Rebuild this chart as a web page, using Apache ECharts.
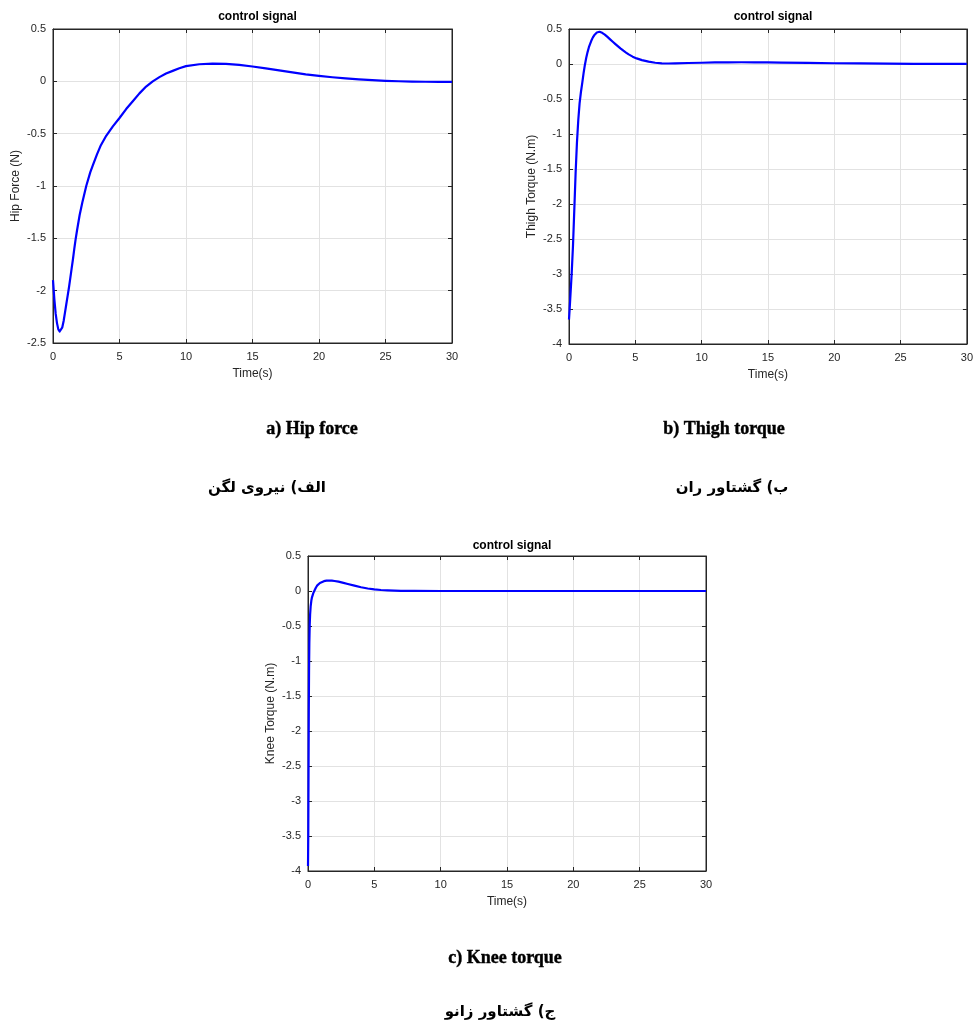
<!DOCTYPE html>
<html>
<head>
<meta charset="utf-8">
<script src="https://cdn.jsdelivr.net/npm/echarts@6/dist/echarts.min.js"></script>
<style>
html,body{margin:0;padding:0;background:#fff;}
#chart{width:976px;height:1021px;}
</style>
</head>
<body>
<div id="chart"></div>
<script>
// ---- Data ----
const xTicks = [0, 5, 10, 15, 20, 25, 30];

const hipT = [0, 0.1, 0.2, 0.3, 0.4, 0.5, 0.6, 0.7, 0.8, 0.9, 1.0, 1.1, 1.2, 1.3, 1.4, 1.5, 1.6, 1.7, 1.8, 2.0, 2.2, 2.5, 2.8, 3.0, 3.3, 3.6, 4.0, 4.5, 5.0, 5.5, 6.0, 6.5, 7.0, 7.5, 8.0, 8.5, 9.0, 9.5, 10, 11, 12, 13, 14, 15, 16, 17, 18, 19, 20, 21, 22, 23, 24, 25, 26, 27, 28, 29, 30];
const hipY = [-1.90, -2.08, -2.22, -2.31, -2.37, -2.39, -2.385, -2.35, -2.29, -2.21, -2.13, -2.05, -1.97, -1.88, -1.79, -1.70, -1.60, -1.51, -1.43, -1.28, -1.16, -1.00, -0.87, -0.80, -0.70, -0.61, -0.52, -0.43, -0.35, -0.265, -0.19, -0.115, -0.05, 0.0, 0.04, 0.075, 0.10, 0.125, 0.145, 0.163, 0.17, 0.167, 0.157, 0.142, 0.124, 0.104, 0.085, 0.067, 0.052, 0.039, 0.028, 0.019, 0.011, 0.005, 0.001, -0.002, -0.004, -0.005, -0.005];

const thighT = [0, 0.05, 0.1, 0.2, 0.3, 0.4, 0.5, 0.6, 0.7, 0.8, 0.9, 1.0, 1.1, 1.2, 1.3, 1.4, 1.5, 1.6, 1.7, 1.8, 1.9, 2.0, 2.1, 2.2, 2.3, 2.4, 2.5, 2.7, 2.9, 3.1, 3.3, 3.5, 3.7, 3.9, 4.1, 4.3, 4.5, 4.8, 5.1, 5.5, 6.0, 6.5, 7.0, 7.5, 8, 9, 10, 11, 12, 13, 14, 15, 16, 18, 20, 22, 24, 26, 28, 30];
const thighY = [-3.65, -3.5, -3.33, -3.0, -2.6, -2.08, -1.55, -1.12, -0.80, -0.56, -0.40, -0.27, -0.13, -0.01, 0.09, 0.17, 0.24, 0.29, 0.34, 0.38, 0.41, 0.435, 0.45, 0.458, 0.46, 0.455, 0.445, 0.42, 0.387, 0.352, 0.318, 0.285, 0.252, 0.22, 0.19, 0.162, 0.137, 0.105, 0.08, 0.055, 0.033, 0.018, 0.009, 0.007, 0.009, 0.014, 0.018, 0.022, 0.024, 0.025, 0.024, 0.022, 0.02, 0.015, 0.011, 0.008, 0.005, 0.003, 0.002, 0.001];

const kneeT = [0, 0.02, 0.04, 0.06, 0.08, 0.1, 0.13, 0.16, 0.2, 0.25, 0.3, 0.4, 0.5, 0.6, 0.7, 0.8, 0.9, 1.0, 1.2, 1.4, 1.6, 1.8, 2.0, 2.3, 2.6, 3.0, 3.5, 4.0, 4.5, 5.0, 5.5, 6.0, 6.5, 7, 8, 10, 15, 20, 25, 30];
const kneeY = [-3.93, -3.5, -2.6, -1.7, -1.1, -0.75, -0.48, -0.33, -0.22, -0.14, -0.09, -0.03, 0.01, 0.05, 0.08, 0.1, 0.115, 0.125, 0.14, 0.148, 0.15, 0.148, 0.143, 0.133, 0.12, 0.1, 0.076, 0.053, 0.036, 0.023, 0.014, 0.008, 0.004, 0.002, 0.001, 0, 0, 0, 0, 0];

const plotTitles = ['control signal', 'control signal', 'control signal'];
const yNames = ['Hip Force (N)', 'Thigh Torque (N.m)', 'Knee Torque (N.m)'];
const xName = 'Time(s)';
const yRanges = [[-2.5, 0.5], [-4, 0.5], [-4, 0.5]];
const captionsEn = ['a) Hip force', 'b) Thigh torque', 'c) Knee torque'];
const captionsFa = ['الف) نیروی لگن', 'ب) گشتاور ران', 'ج) گشتاور زانو'];

// ---- Layout ----
const grids = [
  {left: 53, top: 29, width: 399, height: 314},
  {left: 569, top: 29, width: 398, height: 315},
  {left: 308, top: 556, width: 398, height: 315}
];
const titleTops = [6, 6, 535];
const capPos = [
  {xEn: 307, xFa: 262, yEn: 415, yFa: 476},
  {xEn: 719, xFa: 727, yEn: 415, yFa: 476},
  {xEn: 500, xFa: 495, yEn: 944, yFa: 1000}
];

const seriesT = [hipT, thighT, kneeT];
const seriesY = [hipY, thighY, kneeY];

const axisColor = '#262626';
const gridColor = '#e2e2e2';
const labelFont = {fontFamily: 'Liberation Sans, Arial, sans-serif', fontSize: 11, color: axisColor};

const option = {
  backgroundColor: '#fff',
  animation: false,
  title: [],
  grid: [],
  xAxis: [],
  yAxis: [],
  series: []
};

grids.forEach((g, i) => {
  option.grid.push(Object.assign({show: true, borderColor: axisColor, borderWidth: 1, backgroundColor: '#fff', containLabel: false}, g));
  option.title.push({
    text: plotTitles[i], left: g.left + g.width / 2, top: titleTops[i], textAlign: 'center',
    textStyle: {fontFamily: 'Liberation Sans, Arial, sans-serif', fontSize: 12, fontWeight: 'bold', color: '#000'}
  });
  option.xAxis.push({
    type: 'value', gridIndex: i, min: 0, max: 30, interval: 5, position: 'bottom',
    name: xName, nameLocation: 'middle', nameGap: 25,
    nameTextStyle: {fontFamily: 'Liberation Sans, Arial, sans-serif', fontSize: 12, color: axisColor},
    axisLine: {show: true, onZero: false, lineStyle: {color: axisColor, width: 1}},
    axisTick: {show: true, inside: true, length: 4, lineStyle: {color: axisColor}},
    axisLabel: Object.assign({margin: 8}, labelFont),
    splitLine: {show: true, lineStyle: {color: gridColor, width: 1}}
  });
  option.xAxis.push({
    type: 'value', gridIndex: i, min: 0, max: 30, interval: 5, position: 'top',
    axisLine: {show: true, onZero: false, lineStyle: {color: axisColor, width: 1}},
    axisTick: {show: true, inside: true, length: 4, lineStyle: {color: axisColor}},
    axisLabel: {show: false}, splitLine: {show: false}
  });
  option.yAxis.push({
    type: 'value', gridIndex: i, min: yRanges[i][0], max: yRanges[i][1], interval: 0.5, position: 'left',
    name: yNames[i], nameLocation: 'middle', nameGap: 31, nameRotate: 90,
    nameTextStyle: {fontFamily: 'Liberation Sans, Arial, sans-serif', fontSize: 12, color: axisColor},
    axisLine: {show: true, onZero: false, lineStyle: {color: axisColor, width: 1}},
    axisTick: {show: true, inside: true, length: 4, lineStyle: {color: axisColor}},
    axisLabel: Object.assign({margin: 7, formatter: v => String(Math.round(v * 10) / 10)}, labelFont),
    splitLine: {show: true, lineStyle: {color: gridColor, width: 1}}
  });
  option.yAxis.push({
    type: 'value', gridIndex: i, min: yRanges[i][0], max: yRanges[i][1], interval: 0.5, position: 'right',
    axisLine: {show: true, onZero: false, lineStyle: {color: axisColor, width: 1}},
    axisTick: {show: true, inside: true, length: 4, lineStyle: {color: axisColor}},
    axisLabel: {show: false}, splitLine: {show: false}
  });
  option.series.push({
    type: 'line', xAxisIndex: i * 2, yAxisIndex: i * 2,
    data: seriesT[i].map((t, k) => [t, seriesY[i][k]]),
    showSymbol: false, smooth: false,
    lineStyle: {color: '#0000ff', width: 2.2, join: 'round'}, z: 5
  });
  option.title.push({
    text: captionsEn[i], left: capPos[i].xEn, top: capPos[i].yEn, textAlign: 'center',
    textStyle: {fontFamily: '"Liberation Serif", "DejaVu Serif", serif', fontSize: 18, fontWeight: 900, color: '#000',
      textBorderColor: '#000', textBorderWidth: 0.4}
  });
  option.title.push({
    text: '\u202B' + captionsFa[i] + '\u202C', left: capPos[i].xFa, top: capPos[i].yFa, textAlign: 'center',
    textStyle: {fontFamily: '"DejaVu Sans", sans-serif', fontSize: 15, fontWeight: 'bold', color: '#000'}
  });
});

const chart = echarts.init(document.getElementById('chart'), null, {renderer: 'canvas'});
chart.setOption(option);
</script>
</body>
</html>
